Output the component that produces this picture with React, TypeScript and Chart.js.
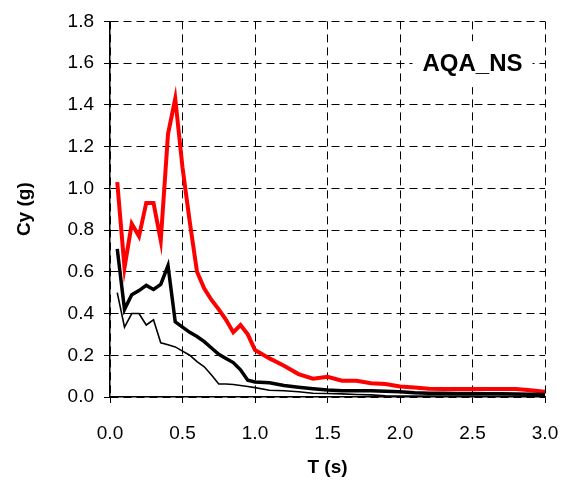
import React, { useEffect, useRef } from 'react';
import { Chart, registerables } from 'chart.js';

Chart.register(...registerables);

// Period T (s)
const periods = [
  0.05, 0.1, 0.15, 0.2, 0.25, 0.3, 0.35, 0.4, 0.45, 0.5,
  0.55, 0.6, 0.65, 0.7, 0.75, 0.8, 0.85, 0.9, 0.95, 1.0,
  1.1, 1.2, 1.3, 1.4, 1.5, 1.6, 1.7, 1.8, 1.9, 2.0,
  2.1, 2.2, 2.3, 2.4, 2.5, 2.6, 2.7, 2.8, 2.9, 3.0,
];

// Red (upper) spectrum
const redValues = [
  1.03, 0.62, 0.83, 0.77, 0.93, 0.93, 0.75, 1.26, 1.43, 1.10,
  0.84, 0.60, 0.52, 0.465, 0.42, 0.37, 0.31, 0.345, 0.30, 0.225,
  0.185, 0.15, 0.11, 0.088, 0.097, 0.078, 0.078, 0.066, 0.062, 0.05,
  0.046, 0.04, 0.038, 0.038, 0.038, 0.038, 0.038, 0.038, 0.032, 0.025,
];

// Thick black spectrum
const thickValues = [
  0.71, 0.42, 0.49, 0.51, 0.535, 0.515, 0.54, 0.63, 0.36, 0.335,
  0.31, 0.29, 0.265, 0.235, 0.205, 0.185, 0.165, 0.13, 0.08, 0.072,
  0.068, 0.055, 0.047, 0.04, 0.033, 0.03, 0.03, 0.03, 0.028, 0.025,
  0.02, 0.018, 0.018, 0.017, 0.017, 0.016, 0.015, 0.014, 0.013, 0.012,
];

// Thin black spectrum
const thinValues = [
  0.50, 0.335, 0.40, 0.40, 0.345, 0.37, 0.26, 0.25, 0.24, 0.22,
  0.20, 0.17, 0.145, 0.105, 0.062, 0.062, 0.06, 0.055, 0.05, 0.045,
  0.032, 0.03, 0.025, 0.018, 0.017, 0.015, 0.012, 0.01, 0.006, 0.004,
  0.004, 0.004, 0.004, 0.004, 0.004, 0.003, 0.003, 0.003, 0.003, 0.003,
];

const xTitle = 'T (s)';
const yTitle = 'Cy (g)';
const stationLabel = 'AQA_NS';
const stationLabelAt = { x: 2.5, y: 1.6 };

const FONT = "'Liberation Sans', Arial, sans-serif";

const toPoints = (vals: number[]) => periods.map((t, i) => ({ x: t, y: vals[i] }));

const labelPlugin = {
  id: 'stationLabel',
  afterDatasetsDraw(chart: any) {
    const { ctx, scales } = chart;
    const cx = scales.x.getPixelForValue(stationLabelAt.x);
    const cy = scales.y.getPixelForValue(stationLabelAt.y);
    ctx.save();
    ctx.font = `bold 24px ${FONT}`;
    const w = ctx.measureText(stationLabel).width;
    ctx.fillStyle = '#ffffff';
    ctx.fillRect(cx - w / 2 - 10, cy - 22, w + 20, 46);
    ctx.fillStyle = '#000000';
    ctx.textAlign = 'center';
    ctx.textBaseline = 'middle';
    ctx.fillText(stationLabel, cx, cy + 1);
    ctx.restore();
  },
};

export default function App() {
  const canvasRef = useRef<HTMLCanvasElement | null>(null);

  useEffect(() => {
    if (!canvasRef.current) return;
    const chart = new Chart(canvasRef.current, {
      type: 'line',
      data: {
        datasets: [
          {
            label: 'thin',
            data: toPoints(thinValues),
            borderColor: '#000000',
            borderWidth: 1.6,
            pointRadius: 0,
            tension: 0,
          },
          {
            label: 'thick',
            data: toPoints(thickValues),
            borderColor: '#000000',
            borderWidth: 3.5,
            pointRadius: 0,
            tension: 0,
          },
          {
            label: 'red',
            data: toPoints(redValues),
            borderColor: '#ff0000',
            borderWidth: 4,
            pointRadius: 0,
            tension: 0,
          },
        ],
      },
      options: {
        responsive: false,
        animation: false,
        layout: { padding: { left: 0, top: 20, right: 23, bottom: 0 } },
        plugins: {
          legend: { display: false },
          tooltip: { enabled: false },
        },
        scales: {
          x: {
            type: 'linear',
            min: 0,
            max: 3,
            afterFit: (s: any) => {
              s.height = 86;
              s.paddingLeft = 0;
              s.paddingRight = 0;
            },
            ticks: {
              stepSize: 0.5,
              color: '#000000',
              font: { family: FONT, size: 19 },
              padding: 19,
              maxRotation: 0,
              callback: (v: any) => Number(v).toFixed(1),
            },
            grid: {
              color: '#000000',
              lineWidth: 1,
              tickLength: 6,
              tickColor: '#000000',
              tickBorderDash: [],
            },
            border: { display: true, color: '#000000', width: 1.5, dash: [8, 5] },
            title: {
              display: true,
              text: xTitle,
              color: '#000000',
              font: { family: FONT, size: 19, weight: 'bold' },
              padding: { top: 0, bottom: 4 },
            },
          },
          y: {
            type: 'linear',
            min: 0,
            max: 1.8,
            afterFit: (s: any) => { s.width = 110; },
            ticks: {
              stepSize: 0.2,
              color: '#000000',
              font: { family: FONT, size: 19 },
              padding: 10,
              callback: (v: any) => Number(v).toFixed(1),
            },
            grid: {
              color: '#000000',
              lineWidth: 1,
              tickLength: 6,
              tickColor: '#000000',
              tickBorderDash: [],
            },
            border: { display: true, color: '#000000', width: 1.5, dash: [8, 5] },
            title: {
              display: true,
              text: yTitle,
              color: '#000000',
              font: { family: FONT, size: 19, weight: 'bold' },
              padding: { top: 13, bottom: 0 },
            },
          },
        },
      },
      plugins: [labelPlugin],
    } as any);
    return () => chart.destroy();
  }, []);

  return (
    <div style={{ position: 'absolute', left: 0, top: 0, width: 568, height: 483, background: '#ffffff' }}>
      <canvas ref={canvasRef} width={568} height={483} style={{ display: 'block' }} />
    </div>
  );
}
